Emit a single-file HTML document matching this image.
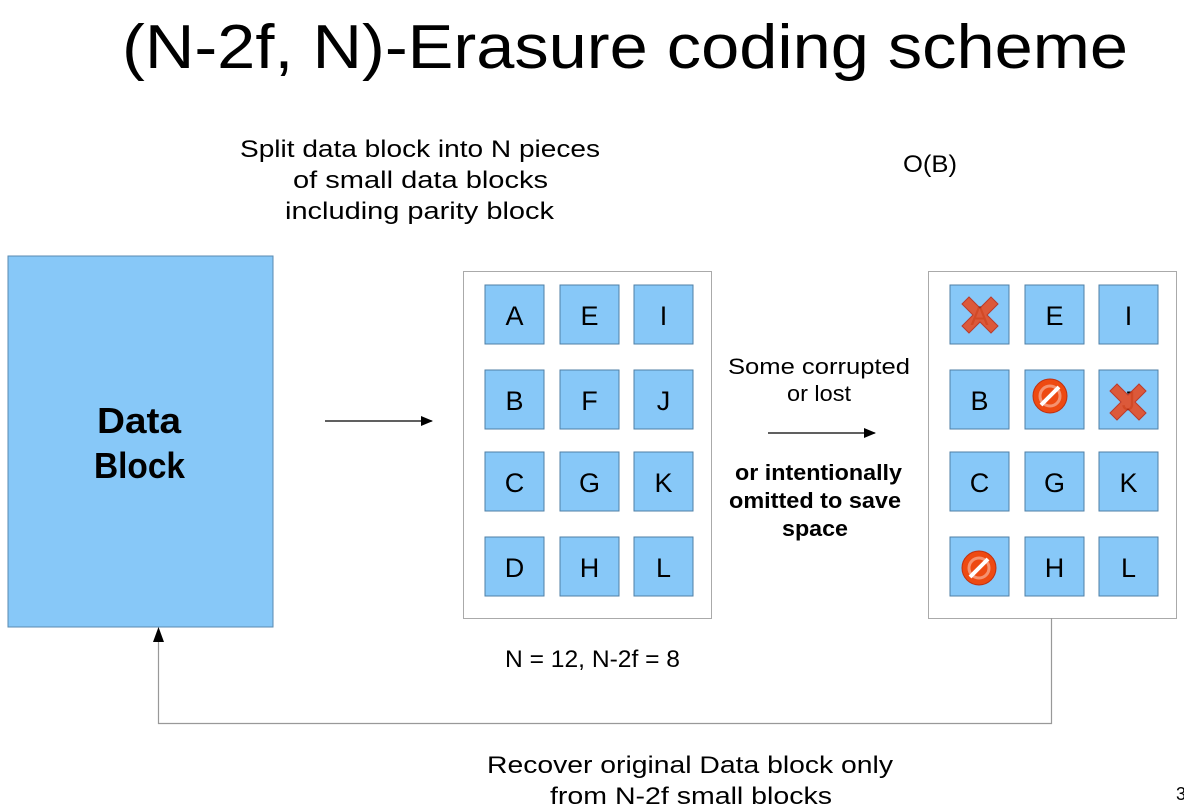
<!DOCTYPE html>
<html><head><meta charset="utf-8"><style>
html,body{margin:0;padding:0;background:#fff;}
svg{display:block;}
text{font-family:"Liberation Sans",sans-serif;fill:#000;}
</style></head><body>
<svg width="1184" height="812" viewBox="0 0 1184 812" xmlns="http://www.w3.org/2000/svg">
<defs>
<marker id="ah" markerWidth="12" markerHeight="10" refX="11" refY="5" orient="auto" markerUnits="userSpaceOnUse">
<path d="M0,0 L12,5 L0,10 Z" fill="#000"/>
</marker>
<g id="xmark">
<path d="M-18,-11 L-11,-18 L0,-7 L11,-18 L18,-11 L7,0 L18,11 L11,18 L0,7 L-11,18 L-18,11 L-7,0 Z" fill="#e4502a" stroke="#c0301a" stroke-width="1" opacity="0.92"/>
</g>
<g id="nomark">
<circle r="17" fill="#ee4a12" stroke="#c03010" stroke-width="1"/>
<circle r="10" fill="none" stroke="#fff" stroke-width="3" opacity="0.4"/>
<line x1="-9" y1="9" x2="9" y2="-9" stroke="#fff" stroke-width="4"/>
</g>
</defs>

<text x="122" y="68" font-size="62" textLength="1006" lengthAdjust="spacingAndGlyphs">(N-2f, N)-Erasure coding scheme</text>

<text x="240" y="157" font-size="24" textLength="360" lengthAdjust="spacingAndGlyphs">Split data block into N pieces</text>
<text x="293" y="188" font-size="24" textLength="255" lengthAdjust="spacingAndGlyphs">of small data blocks</text>
<text x="285" y="219" font-size="24" textLength="269" lengthAdjust="spacingAndGlyphs">including parity block</text>
<text x="903" y="172" font-size="24" textLength="54" lengthAdjust="spacingAndGlyphs">O(B)</text>

<rect x="8" y="256" width="265" height="371" fill="#87c8f8" stroke="#5a8ab0" stroke-width="1"/>
<text x="97" y="433" font-size="36" font-weight="bold" textLength="84" lengthAdjust="spacingAndGlyphs">Data</text>
<text x="94" y="478" font-size="36" font-weight="bold" textLength="91" lengthAdjust="spacingAndGlyphs">Block</text>

<line x1="325" y1="421" x2="432" y2="421" stroke="#000" stroke-width="1.2" marker-end="url(#ah)"/>
<line x1="768" y1="433" x2="875" y2="433" stroke="#000" stroke-width="1.2" marker-end="url(#ah)"/>

<text x="728" y="374" font-size="22" textLength="182" lengthAdjust="spacingAndGlyphs">Some corrupted</text>
<text x="787" y="401" font-size="22" textLength="64" lengthAdjust="spacingAndGlyphs">or lost</text>
<text x="735" y="480" font-size="22" font-weight="bold" textLength="167" lengthAdjust="spacingAndGlyphs">or intentionally</text>
<text x="729" y="508" font-size="22" font-weight="bold" textLength="172" lengthAdjust="spacingAndGlyphs">omitted to save</text>
<text x="782" y="536" font-size="22" font-weight="bold" textLength="66" lengthAdjust="spacingAndGlyphs">space</text>

<rect x="463.5" y="271.5" width="248" height="347" fill="#fff" stroke="#aaa" stroke-width="1"/>
<rect x="928.5" y="271.5" width="248" height="347" fill="#fff" stroke="#aaa" stroke-width="1"/>

<g fill="#87c8f8" stroke="#4f7fa6" stroke-width="1">
<rect x="485" y="285" width="59" height="59"/><rect x="560" y="285" width="59" height="59"/><rect x="634" y="285" width="59" height="59"/>
<rect x="485" y="370" width="59" height="59"/><rect x="560" y="370" width="59" height="59"/><rect x="634" y="370" width="59" height="59"/>
<rect x="485" y="452" width="59" height="59"/><rect x="560" y="452" width="59" height="59"/><rect x="634" y="452" width="59" height="59"/>
<rect x="485" y="537" width="59" height="59"/><rect x="560" y="537" width="59" height="59"/><rect x="634" y="537" width="59" height="59"/>
<rect x="950" y="285" width="59" height="59"/><rect x="1025" y="285" width="59" height="59"/><rect x="1099" y="285" width="59" height="59"/>
<rect x="950" y="370" width="59" height="59"/><rect x="1025" y="370" width="59" height="59"/><rect x="1099" y="370" width="59" height="59"/>
<rect x="950" y="452" width="59" height="59"/><rect x="1025" y="452" width="59" height="59"/><rect x="1099" y="452" width="59" height="59"/>
<rect x="950" y="537" width="59" height="59"/><rect x="1025" y="537" width="59" height="59"/><rect x="1099" y="537" width="59" height="59"/>
</g>
<g font-size="27" text-anchor="middle">
<text x="514.5" y="325">A</text><text x="589.5" y="325">E</text><text x="663.5" y="325">I</text>
<text x="514.5" y="410">B</text><text x="589.5" y="410">F</text><text x="663.5" y="410">J</text>
<text x="514.5" y="492">C</text><text x="589.5" y="492">G</text><text x="663.5" y="492">K</text>
<text x="514.5" y="577">D</text><text x="589.5" y="577">H</text><text x="663.5" y="577">L</text>
<text x="979.5" y="325">A</text><text x="1054.5" y="325">E</text><text x="1128.5" y="325">I</text>
<text x="979.5" y="410">B</text><text x="1054.5" y="410">F</text><text x="1128.5" y="410">J</text>
<text x="979.5" y="492">C</text><text x="1054.5" y="492">G</text><text x="1128.5" y="492">K</text>
<text x="979.5" y="577">D</text><text x="1054.5" y="577">H</text><text x="1128.5" y="577">L</text>
</g>
<use href="#xmark" x="980" y="315"/>
<use href="#nomark" x="1050" y="396"/>
<use href="#xmark" x="1128" y="402"/>
<use href="#nomark" x="979" y="568"/>

<text x="505" y="667" font-size="24" textLength="175" lengthAdjust="spacingAndGlyphs">N = 12, N-2f = 8</text>

<polyline points="1051.5,618 1051.5,723.5 158.5,723.5 158.5,632" fill="none" stroke="#999" stroke-width="1.2"/>
<path d="M158.5,627 L153,642 L164,642 Z" fill="#000"/>

<text x="487" y="773" font-size="24" textLength="406" lengthAdjust="spacingAndGlyphs">Recover original Data block only</text>
<text x="550" y="804" font-size="24" textLength="282" lengthAdjust="spacingAndGlyphs">from N-2f small blocks</text>
<text x="1176" y="800" font-size="18">3</text>
</svg>
</body></html>
